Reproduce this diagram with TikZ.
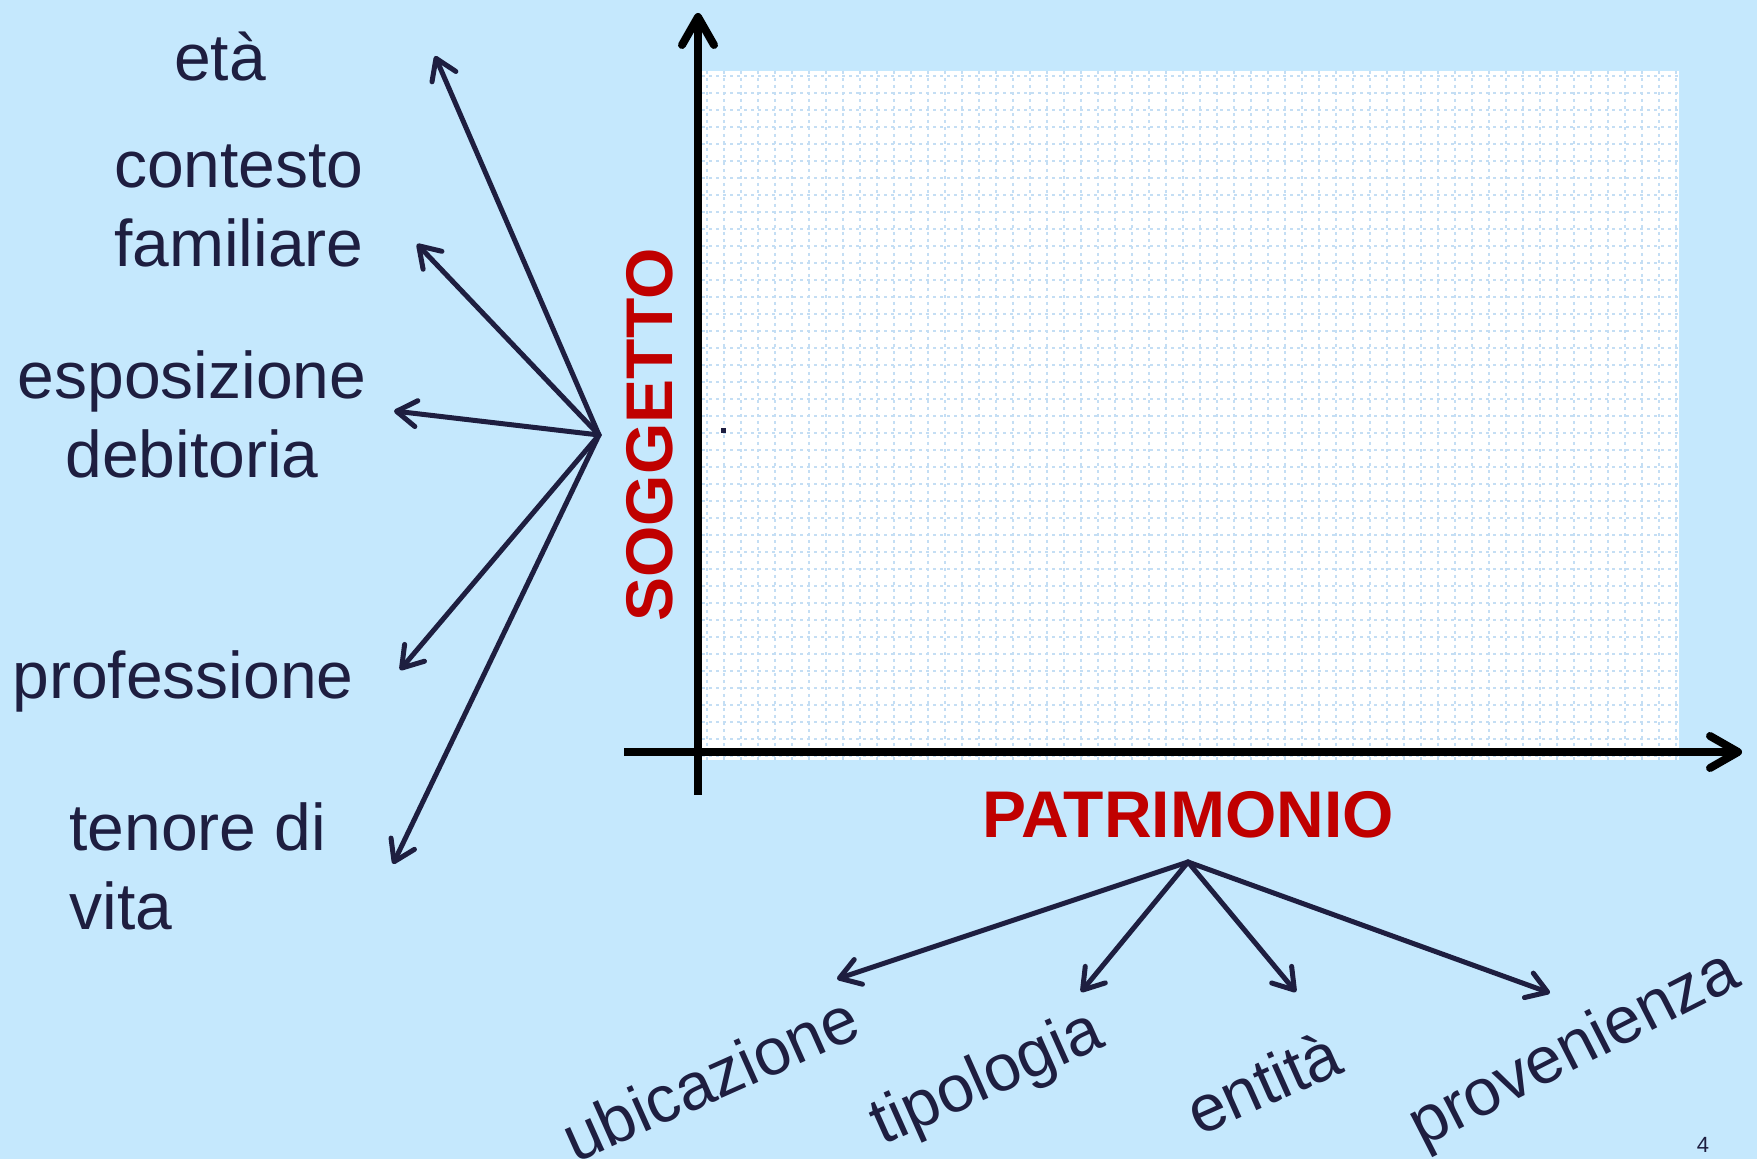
\documentclass[tikz,border=0pt]{standalone}
\usepackage{fontspec}
\setmainfont{Liberation Sans}
\usetikzlibrary{arrows.meta}
\definecolor{sfondo}{RGB}{197,232,253}
\definecolor{blu}{RGB}{30,30,64}
\definecolor{rosso}{RGB}{192,0,0}
\definecolor{griglia}{RGB}{196,222,244}
\newcommand{\passo}{17}

\begin{document}
\begin{tikzpicture}[x=0.5pt, y=-0.5pt,
  lbl/.style={text=blu, inner sep=0pt, font=\fontsize{33}{39.5}\selectfont},
  titolo/.style={text=rosso, inner sep=0pt, font=\fontsize{33}{39.5}\selectfont\bfseries},
  raggio/.style={draw=blu, line width=2.5pt, line cap=round,
    -{Straight Barb[length=10pt, width=13pt, line cap=round, line join=round]}},
  asse/.style={draw=black, line width=4pt,
    -{Straight Barb[length=14pt, width=16pt, line cap=round, line join=round]}},
  retino/.style={draw=griglia, line width=1pt, dash pattern=on 1.5pt off 2pt}]

\useasboundingbox[fill=sfondo] (0,0) rectangle (1757,1159);

% grid paper
\fill[white] (702,71) rectangle (1679,760);
\foreach \i in {0,...,57} {
  \draw[retino] ({707+\passo*\i},71) -- ({707+\passo*\i},760);
}
\foreach \j in {0,...,40} {
  \draw[retino] (702,{76+\passo*\j}) -- (1679,{76+\passo*\j});
}
\fill[blu] (720.5,428.5) rectangle (725.5,433.5);

% axes
\coordinate (ybase) at (698,795);
\coordinate (ytop) at (698,13);
\coordinate (xbase) at (624,752);
\coordinate (xtop) at (1742,752);
\draw[asse] (ybase) -- (ytop);
\draw[asse] (xbase) -- (xtop);

\node[titolo, rotate=90] (soggetto) at (650,435) {SOGGETTO};
\node[titolo] (patrimonio) at (1188,815) {PATRIMONIO};

% left labels
\node[lbl] (eta) at (220,57) {età};
\node[lbl, align=right, anchor=east] (contesto) at (364,206) {contesto\\familiare};
\node[lbl, align=center] (esposizione) at (192,414) {esposizione\\debitoria};
\node[lbl] (professione) at (183,681) {professione};
\node[lbl, align=left, anchor=west] (tenore) at (69,866) {tenore di\\vita};

\coordinate (hubs) at (599,435);
\coordinate (teta) at (435,56);
\coordinate (tcontesto) at (417,244);
\coordinate (tesposizione) at (394,411);
\coordinate (tprofessione) at (400,670);
\coordinate (ttenore) at (393,864);
\foreach \t in {teta,tcontesto,tesposizione,tprofessione,ttenore} {
  \draw[raggio] (hubs) -- (\t);
}

% bottom labels
\node[lbl, rotate=24] (ubicazione) at (710,1078) {ubicazione};
\node[lbl, rotate=24] (tipologia) at (988,1080) {tipologia};
\node[lbl, rotate=24] (entita) at (1263,1082) {entità};
\node[lbl, rotate=27] (provenienza) at (1575,1051) {provenienza};

\coordinate (hubp) at (1188,862);
\coordinate (tubicazione) at (837,979);
\coordinate (ttipologia) at (1081,992);
\coordinate (tentita) at (1296,992);
\coordinate (tprovenienza) at (1550,993);
\foreach \t in {tubicazione,ttipologia,tentita,tprovenienza} {
  \draw[raggio] (hubp) -- (\t);
}

\node[text=blu, font=\fontsize{11}{13}\selectfont] (pagina) at (1703,1145) {4};

\end{tikzpicture}
\end{document}
